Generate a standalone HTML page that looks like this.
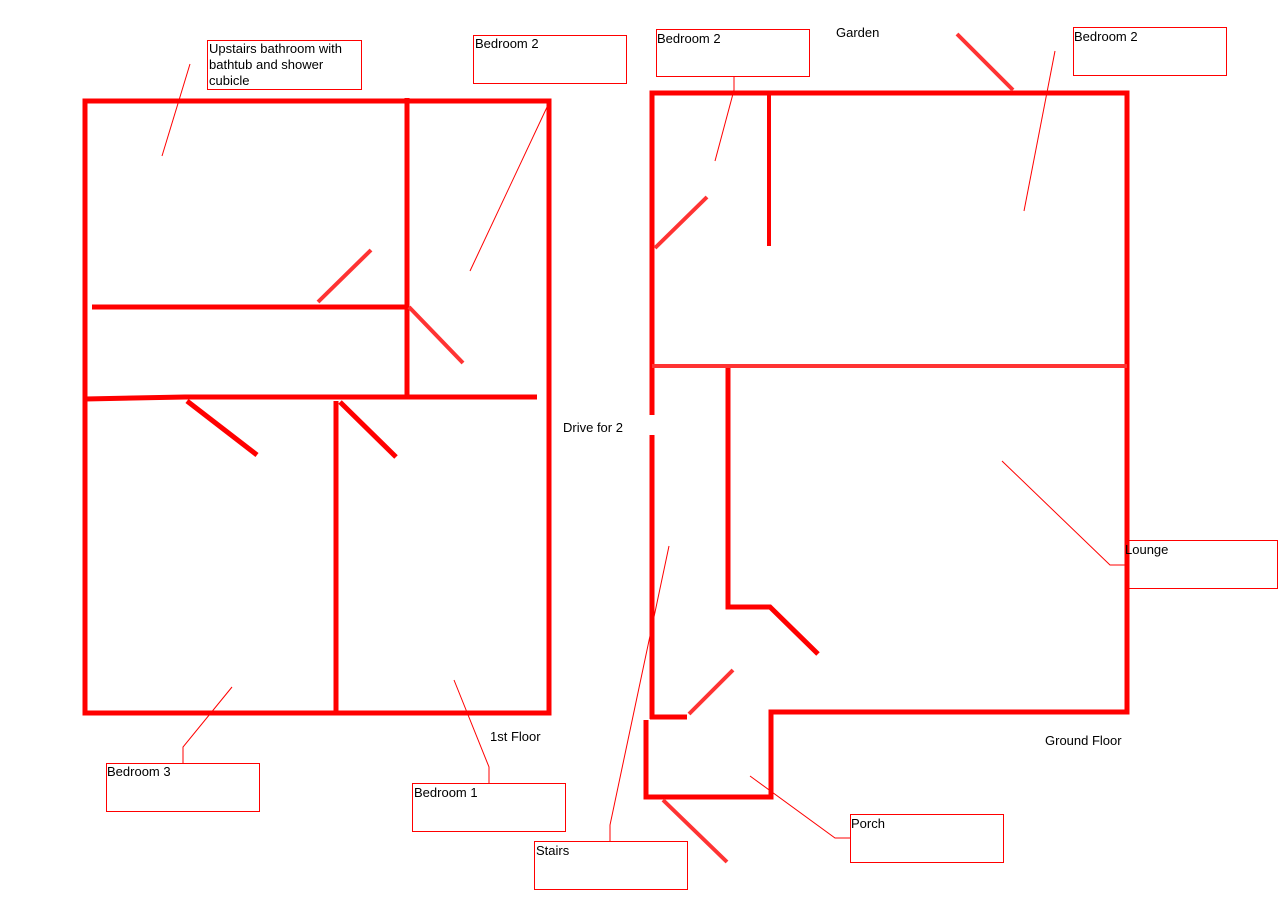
<!DOCTYPE html>
<html><head><meta charset="utf-8"><style>
html,body{margin:0;padding:0;background:#fff;}
svg{display:block;}
text{font-family:"Liberation Sans",sans-serif;font-size:13px;fill:#000;}
</style></head><body>
<svg width="1280" height="902" viewBox="0 0 1280 902" xmlns="http://www.w3.org/2000/svg">
<g stroke="#ff0000" stroke-width="5" fill="none" stroke-linecap="butt">
<rect x="85" y="101" width="464" height="612"/>
<line x1="407" y1="98" x2="407" y2="395"/>
<line x1="92" y1="307" x2="409" y2="307"/>
<polyline points="85,399 185,397 537,397"/>
<line x1="336" y1="401" x2="336" y2="713"/>
<polyline points="652,415 652,93 1127,93 1127,712 771,712 771,797 646,797 646,720"/>
<line x1="652" y1="435" x2="652" y2="719"/>
<line x1="650" y1="717" x2="687" y2="717"/>
<line x1="769" y1="95" x2="769" y2="246" stroke-width="4"/>
<polyline points="728,367 728,607 770,607 818,654"/>
</g>
<line x1="652" y1="366" x2="1127" y2="366" stroke="#ff3333" stroke-width="4"/>
<g stroke="#ff3333" stroke-width="4" fill="none">
<line x1="318" y1="302" x2="371" y2="250"/>
<line x1="409" y1="307" x2="463" y2="363"/>
<line x1="187" y1="401" x2="257" y2="455" stroke="#ff0000" stroke-width="5"/>
<line x1="340" y1="402" x2="396" y2="457" stroke="#ff0000" stroke-width="5"/>
<line x1="655" y1="248" x2="707" y2="197"/>
<line x1="957" y1="34" x2="1013" y2="90"/>
<line x1="689" y1="714" x2="733" y2="670"/>
<line x1="663" y1="800" x2="727" y2="862"/>
</g>
<g stroke="#ff0000" stroke-width="1" fill="none">
<rect x="207.5" y="40.5" width="154" height="49"/>
<line x1="190" y1="64" x2="162" y2="156"/>
<rect x="473.5" y="35.5" width="153" height="48"/>
<line x1="548" y1="105" x2="470" y2="271"/>
<rect x="106.5" y="763.5" width="153" height="48"/>
<polyline points="232,687 183,747 183,763"/>
<rect x="412.5" y="783.5" width="153" height="48"/>
<polyline points="454,680 489,767 489,783"/>
<rect x="656.5" y="29.5" width="153" height="47"/>
<polyline points="734,77 734,90 715,161"/>
<rect x="1073.5" y="27.5" width="153" height="48"/>
<line x1="1055" y1="51" x2="1024" y2="211"/>
<rect x="1127.5" y="540.5" width="150" height="48"/>
<polyline points="1002,461 1110,565 1127,565"/>
<rect x="850.5" y="814.5" width="153" height="48"/>
<polyline points="750,776 835,838 850,838"/>
<rect x="534.5" y="841.5" width="153" height="48"/>
<polyline points="669,546 610,825 610,841"/>
</g>
<text x="209" y="53">Upstairs bathroom with</text>
<text x="209" y="69">bathtub and shower</text>
<text x="209" y="85">cubicle</text>
<text x="475" y="48">Bedroom 2</text>
<text x="107" y="776">Bedroom 3</text>
<text x="414" y="797">Bedroom 1</text>
<text x="490" y="741">1st Floor</text>
<text x="563" y="432">Drive for 2</text>
<text x="836" y="37">Garden</text>
<text x="657" y="43">Bedroom 2</text>
<text x="1074" y="41">Bedroom 2</text>
<text x="1125" y="554">Lounge</text>
<text x="1045" y="745">Ground Floor</text>
<text x="851" y="828">Porch</text>
<text x="536" y="855">Stairs</text>
</svg>
</body></html>
